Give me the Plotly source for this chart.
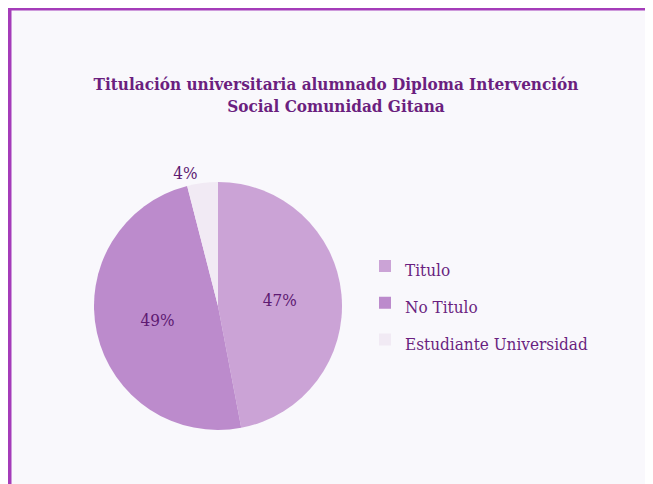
import plotly.graph_objects as go

labels = ["Titulo", "No Titulo", "Estudiante Universidad"]
values = [47, 49, 4]
colors = ["#CBA3D6", "#BC8BCC", "#F1EAF4"]
text_positions = ["inside", "inside", "outside"]

title_text = "Titulación universitaria alumnado Diploma Intervención<br>Social Comunidad Gitana"

W, H = 653, 484
OFF = 8  # page body margin offset


def px(x):
    return (x - OFF) / W


def py(y):
    return 1 - (y - OFF) / H


FONT = "DejaVu Serif Condensed"
LEGEND_TEXT_SIZE = 17
LEGEND_ROW_SIZE = 26  # sets the legend row spacing

legend_labels = [
    f"<span style='font-size:{LEGEND_TEXT_SIZE}px'>{lab}</span>" for lab in labels
]

fig = go.Figure()
fig.add_trace(go.Pie(
    labels=legend_labels,
    values=values,
    customdata=labels,
    sort=False,
    direction="clockwise",
    rotation=0,
    marker=dict(colors=colors, line=dict(width=0)),
    textinfo="percent",
    texttemplate="%{percent:.0%}",
    textposition=text_positions,
    insidetextorientation="horizontal",
    textfont=dict(family=FONT, size=17, color="#5E1A72"),
    domain=dict(x=[px(94), px(342)], y=[py(430), py(182)]),
    hovertemplate="%{customdata}: %{percent:.0%}<extra></extra>",
))

fig.update_layout(
    width=W, height=H,
    margin=dict(l=0, r=0, t=0, b=0),
    paper_bgcolor="#FFFFFF",
    plot_bgcolor="#FFFFFF",
    title=dict(
        text=title_text,
        x=px(336), xanchor="center",
        y=py(90), yanchor="middle",
        font=dict(family=FONT, size=17, color="#6B1F7F", weight="bold"),
    ),
    legend=dict(
        x=px(365), xanchor="left",
        y=py(303), yanchor="middle",
        bgcolor="rgba(0,0,0,0)",
        font=dict(family=FONT, size=LEGEND_ROW_SIZE, color="#6A1F80"),
        itemclick=False,
    ),
    shapes=[dict(
        type="rect", xref="paper", yref="paper",
        x0=px(9), x1=1.05, y0=-0.05, y1=py(8),
        fillcolor="#F9F8FC",
        line=dict(color="#A43CB9", width=5),
        layer="below",
    )],
)

fig.write_html("out.html")
